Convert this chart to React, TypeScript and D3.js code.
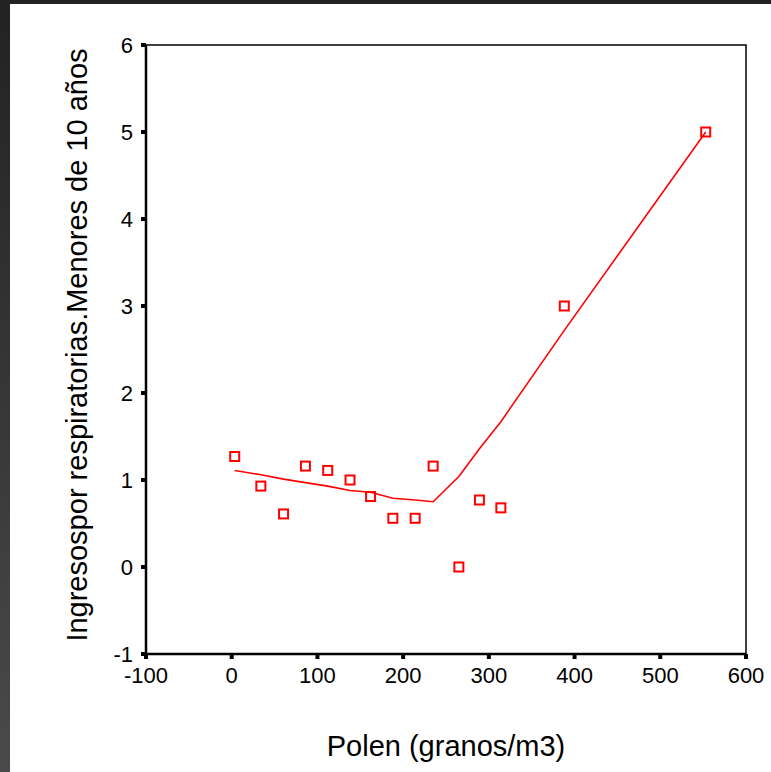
import React from "react";
import * as d3 from "d3";

const xTicks = [-100, 0, 100, 200, 300, 400, 500, 600];
const yTicks = [-1, 0, 1, 2, 3, 4, 5, 6];
const polen = [3.5, 34, 60.5, 86, 112, 138, 162, 188, 214, 235, 265, 289, 314, 388, 553];
const ingresos = [1.27, 0.93, 0.61, 1.16, 1.11, 1.0, 0.81, 0.56, 0.56, 1.16, 0.0, 0.77, 0.68, 3.0, 5.0];
const fitted = [1.11, 1.06, 1.01, 0.97, 0.93, 0.88, 0.86, 0.79, 0.77, 0.75, 1.04, 1.36, 1.67, 2.72, 5.0];

export default function App() {
  const W = 771, H = 772;
  const x = d3.scaleLinear().domain([-100, 600]).range([146, 746]);
  const y = d3.scaleLinear().domain([-1, 6]).range([654, 45]);
  const line = d3.line<number>().x((_, i) => x(polen[i])).y((d) => y(d));
  const font = "'Liberation Sans', Arial, sans-serif";
  return (
    <svg width={W} height={H} style={{ position: "absolute", left: 0, top: 0 }}>
      <defs>
        <linearGradient id="bg" x1="0" y1="0" x2="0" y2="1">
          <stop offset="0" stopColor="#222" />
          <stop offset="1" stopColor="#4a4a4a" />
        </linearGradient>
      </defs>
      <rect x={0} y={0} width={W} height={H} fill="url(#bg)" />
      <rect x={10} y={4} width={W - 10} height={H - 4} fill="#fffff4" />
      <rect x={11} y={5} width={W - 11} height={H - 5} fill="#ffffff" />
      {/* frame */}
      <rect x={x(-100)} y={y(6)} width={x(600) - x(-100)} height={y(-1) - y(6)} fill="none" stroke="#000" strokeWidth={1.5} />
      <line x1={x(-100)} x2={x(-100)} y1={y(6)} y2={y(-1)} stroke="#000" strokeWidth={2.5} />
      <line x1={x(-100)} x2={x(600)} y1={y(-1)} y2={y(-1)} stroke="#000" strokeWidth={2.5} />
      {yTicks.map((t) => (
        <g key={"y" + t}>
          <rect x={x(-100) - 5} y={y(t) - 2} width={5} height={4} fill="#000" />
          <text x={133} y={y(t)} dy="0.36em" textAnchor="end" fontFamily={font} fontSize={22} fill="#000">{t}</text>
        </g>
      ))}
      {xTicks.map((t) => (
        <g key={"x" + t}>
          <rect x={x(t) - 2} y={y(-1)} width={4} height={5} fill="#000" />
          <text x={x(t)} y={683} textAnchor="middle" fontFamily={font} fontSize={22} fill="#000">{t}</text>
        </g>
      ))}
      <path d={line(fitted) || ""} fill="none" stroke="#ff0000" strokeWidth={1.6} />
      {polen.map((p, i) => (
        <rect key={i} x={x(p) - 4.5} y={y(ingresos[i]) - 4.5} width={9} height={9} fill="none" stroke="#ff0000" strokeWidth={2} />
      ))}
      <text x={446} y={756} textAnchor="middle" fontFamily={font} fontSize={29} fill="#000">Polen (granos/m3)</text>
      <text transform={`translate(87,345) rotate(-90)`} textAnchor="middle" fontFamily={font} fontSize={29} fill="#000">Ingresospor respiratorias.Menores de 10 años</text>
    </svg>
  );
}
